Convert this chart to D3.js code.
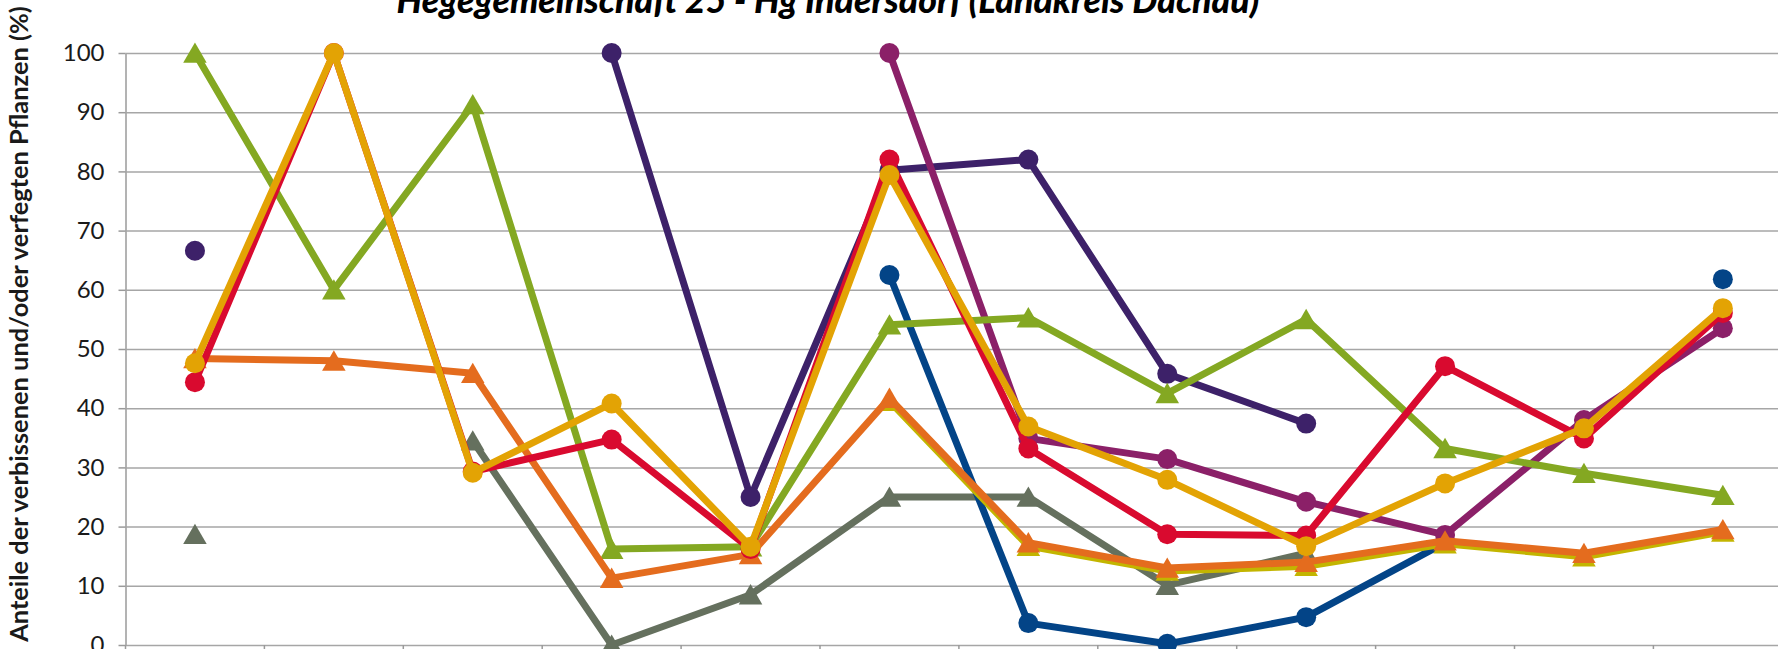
<!DOCTYPE html>
<html>
<head>
<meta charset="utf-8">
<script src="https://cdn.jsdelivr.net/npm/d3@7"></script>
<style>
    body { margin: 0; background: #fff; }
    svg { display: block; font-family: Lato, "Open Sans", sans-serif; }
</style>
</head>
<body>
<svg id="chart" width="1778" height="649"></svg>
<script>
// 12 categories along x (their labels are cropped off in the picture)
var categories = ["1", "2", "3", "4", "5", "6", "7", "8", "9", "10", "11", "12"];
var yTicks = [0, 10, 20, 30, 40, 50, 60, 70, 80, 90, 100];

var titleText = "Hegegemeinschaft 25 - Hg Indersdorf (Landkreis Dachau)";
var yLabelText = "Anteile der verbissenen und/oder verfegten Pflanzen (%)";

// values in %, null = no value
var darkPurple = [66.6, null, null, 100, 25, 80.2, 82, 45.8, 37.4, null, null, null];
var blue = [null, null, null, null, null, 62.5, 3.7, 0.2, 4.7, 17.3, null, 61.8];
var magenta = [null, null, null, null, null, 100, 34.9, 31.4, 24.2, 18.6, 38, 53.5];
var gray = [18.7, null, 34.5, 0, 8.5, 25, 25, 10.1, 15.5, null, null, null];
var green = [100, 60, 91.3, 16.2, 16.6, 54.1, 55.3, 42.5, 55, 33.2, 29, 25.3];
var olive = [null, null, null, null, null, 41.2, 16.7, 12.5, 13.3, 17.1, 14.9, 19.1];
var orange = [48.4, 48, 45.9, 11.3, 15.3, 41.7, 17.3, 13, 14, 17.6, 15.5, 19.5];
var red = [44.4, 100, 29.3, 34.7, 16.2, 82, 33.2, 18.7, 18.5, 47.1, 34.9, 56.1];
var gold = [47.6, 100, 29.1, 40.8, 16.6, 79.4, 36.9, 27.9, 16.7, 27.3, 36.6, 56.9];

var series = [
    { values: gray, color: "#65705e", shape: "triangle" },
    { values: blue, color: "#034487", shape: "circle" },
    { values: darkPurple, color: "#3d2169", shape: "circle" },
    { values: magenta, color: "#8b2068", shape: "circle" },
    { values: green, color: "#84a822", shape: "triangle" },
    { values: olive, color: "#c3b500", shape: "triangle" },
    { values: orange, color: "#e46c1e", shape: "triangle" },
    { values: red, color: "#d90a2f", shape: "circle" },
    { values: gold, color: "#e3a304", shape: "circle" }
];

var svg = d3.select("svg#chart"),
    plotLeft = 125.5,
    bandW = 138.9,
    plotTop = 53,
    plotBottom = 645;

var x = d3
    .scaleBand()
    .domain(categories)
    .range([plotLeft, plotLeft + bandW * categories.length]);
var y = d3.scaleLinear().domain([0, 100]).range([plotBottom, plotTop]);

// horizontal gridlines + y axis
var yAxis = svg
    .append("g")
    .attr("transform", "translate(" + plotLeft + ",0)")
    .call(
        d3
            .axisLeft(y)
            .tickValues(yTicks)
            .tickSize(-(1778 - plotLeft))
            .tickSizeOuter(0)
            .tickPadding(21)
    );
yAxis.select(".domain").attr("stroke", "#9a9a9a").attr("stroke-width", 1.5);
yAxis.selectAll(".tick line").attr("stroke", "#a6a6a6").attr("stroke-width", 1.5);
yAxis
    .selectAll(".tick")
    .append("line")
    .attr("x1", -7)
    .attr("x2", 0)
    .attr("stroke", "#9a9a9a")
    .attr("stroke-width", 1.5);
yAxis
    .selectAll(".tick text")
    .attr("fill", "#1a1a1a")
    .style("font-size", "24px")
    .style("font-family", "Lato");

// category boundary ticks on the x axis
var bounds = categories.map(c => x(c)).concat([x.range()[1]]);
svg.append("g")
    .selectAll("line")
    .data(bounds)
    .enter()
    .append("line")
    .attr("x1", d => d)
    .attr("x2", d => d)
    .attr("y1", plotBottom)
    .attr("y2", plotBottom + 8)
    .attr("stroke", "#9a9a9a")
    .attr("stroke-width", 1.5);

var cx = i => x(categories[i]) + x.bandwidth() / 2;

var line = d3
    .line()
    .defined(d => d != null)
    .x((d, i) => cx(i))
    .y(d => y(d));

var tri = d3.symbol().type(d3.symbolTriangle).size(240);

series.forEach(function(s) {
    var g = svg.append("g");
    g.append("path")
        .attr("d", line(s.values))
        .attr("fill", "none")
        .attr("stroke", s.color)
        .attr("stroke-width", 7)
        .attr("stroke-linejoin", "round");

    var pts = s.values
        .map((v, i) => ({ v: v, i: i }))
        .filter(d => d.v != null);

    if (s.shape == "circle") {
        g.selectAll("circle")
            .data(pts)
            .enter()
            .append("circle")
            .attr("cx", d => cx(d.i))
            .attr("cy", d => y(d.v))
            .attr("r", 10)
            .attr("fill", s.color);
    } else {
        // shift so the triangle's box is centred on the point, like Excel
        g.selectAll("path.m")
            .data(pts)
            .enter()
            .append("path")
            .attr("class", "m")
            .attr("d", tri)
            .attr("transform", d => "translate(" + cx(d.i) + "," + (y(d.v) + 3) + ")")
            .attr("fill", s.color);
    }
});

// title, top part cropped like the reference
var title = svg
    .append("text")
    .attr("x", 828)
    .attr("y", 13)
    .attr("text-anchor", "middle")
    .attr("fill", "#000")
    .style("font-weight", "900")
    .style("font-style", "italic")
    .style("font-size", "28px")
    .text(titleText);
var tl = title.node().getComputedTextLength();
title.style("font-size", (28 * 863) / tl + "px");

var ylab = svg
    .append("text")
    .attr("transform", "translate(28,324) rotate(-90)")
    .attr("text-anchor", "middle")
    .attr("fill", "#1a1a1a")
    .style("font-weight", "bold")
    .style("font-size", "22px")
    .text(yLabelText);
var yl = ylab.node().getComputedTextLength();
ylab.style("font-size", (22 * 636) / yl + "px");
</script>
</body>
</html>
